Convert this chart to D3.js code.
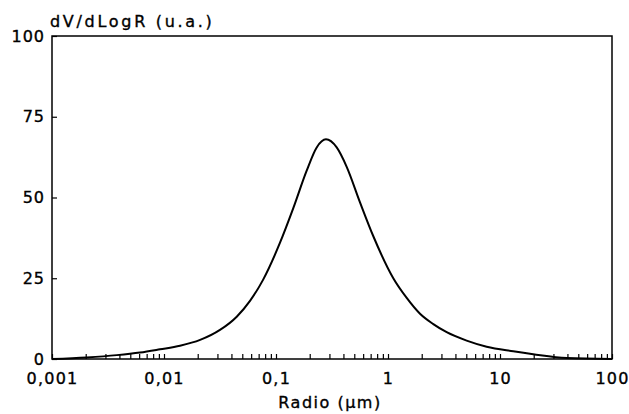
<!DOCTYPE html>
<html>
<head>
<meta charset="utf-8">
<script src="https://cdn.jsdelivr.net/npm/d3@7"></script>
<style>
  body { margin:0; background:#fff; }
  text { font-family:"DejaVu Sans", sans-serif; fill:#000; stroke:#000; stroke-width:0.35px; }
</style>
</head>
<body>
<svg class="chart" width="629" height="414"></svg>
<script>
// distribucion de tamaños
var radios = [0.001, 0.00204, 0.00379, 0.00611, 0.0092, 0.0139, 0.021, 0.0316, 0.0446, 0.0586,
  0.0766, 0.1086, 0.1427, 0.1879, 0.2309, 0.2793, 0.3483, 0.4277, 0.5623, 0.7396,
  1.115, 1.469, 1.931, 2.538, 3.341, 5.039, 7.60, 13.14, 19.8, 39.5, 100];
var dvdlogr = [0, 0.5, 1.2, 2.0, 3.0, 4.1, 5.9, 9.0, 13.1, 18,
  24.5, 36, 46.7, 58.3, 65.5, 68, 65.5, 59.5, 48.5, 38,
  25, 18.9, 14.0, 10.8, 8.3, 5.7, 3.8, 2.4, 1.5, 0.3, 0];

var xDecadas = [0.001, 0.01, 0.1, 1, 10, 100];
var xEtiquetas = ["0,001", "0,01", "0,1", "1", "10", "100"];
var yTicks = [0, 25, 50, 75, 100];

var x = d3.scaleLog().domain([0.001, 100]).range([52, 612]);
var y = d3.scaleLinear().domain([0, 100]).range([359, 36]);

var canvas = d3.select(".chart");

// marco
canvas.append("rect")
  .attr("x", x(0.001)).attr("y", y(100))
  .attr("width", x(100) - x(0.001))
  .attr("height", y(0) - y(100))
  .attr("fill", "none")
  .attr("stroke", "#000")
  .attr("stroke-width", 1.5);

// ticks menores hacia dentro
var xMenor = canvas.append("g")
  .attr("transform", "translate(0," + y(0) + ")")
  .call(d3.axisBottom(x).tickValues(x.ticks()).tickSize(-5).tickFormat(""));
xMenor.select(".domain").remove();
xMenor.selectAll("line").attr("stroke-width", 1.2);

var xLabels = canvas.append("g")
  .attr("transform", "translate(0," + y(0) + ")")
  .call(d3.axisBottom(x).tickValues(xDecadas).tickSize(0).tickPadding(14)
    .tickFormat((d, i) => xEtiquetas[i]));
xLabels.select(".domain").remove();
xLabels.selectAll("text")
  .attr("font-size", "16px")
  .attr("letter-spacing", "1.2px")
  .attr("font-family", "DejaVu Sans");

var yAxis = canvas.append("g")
  .attr("transform", "translate(" + x(0.001) + ",0)")
  .call(d3.axisLeft(y).tickValues(yTicks).tickSize(-5).tickPadding(7));
yAxis.select(".domain").remove();
yAxis.selectAll("line").attr("stroke-width", 1.2);
yAxis.selectAll("text")
  .attr("font-size", "16px")
  .attr("letter-spacing", "1px")
  .attr("font-family", "DejaVu Sans");

// curva
var linea = d3.line()
  .x((d, i) => x(radios[i]))
  .y(d => y(d))
  .curve(d3.curveMonotoneX);

canvas.append("path")
  .datum(dvdlogr)
  .attr("d", linea)
  .attr("fill", "none")
  .attr("stroke", "#000")
  .attr("stroke-width", 2);

// titulos
canvas.append("text")
  .attr("x", 50).attr("y", 27)
  .attr("font-size", "16px")
  .attr("letter-spacing", "2.7px")
  .text("dV/dLogR (u.a.)");

canvas.append("text")
  .attr("x", 330).attr("y", 408)
  .attr("text-anchor", "middle")
  .attr("font-size", "16px")
  .attr("letter-spacing", "1.5px")
  .text("Radio (µm)");
</script>
</body>
</html>
